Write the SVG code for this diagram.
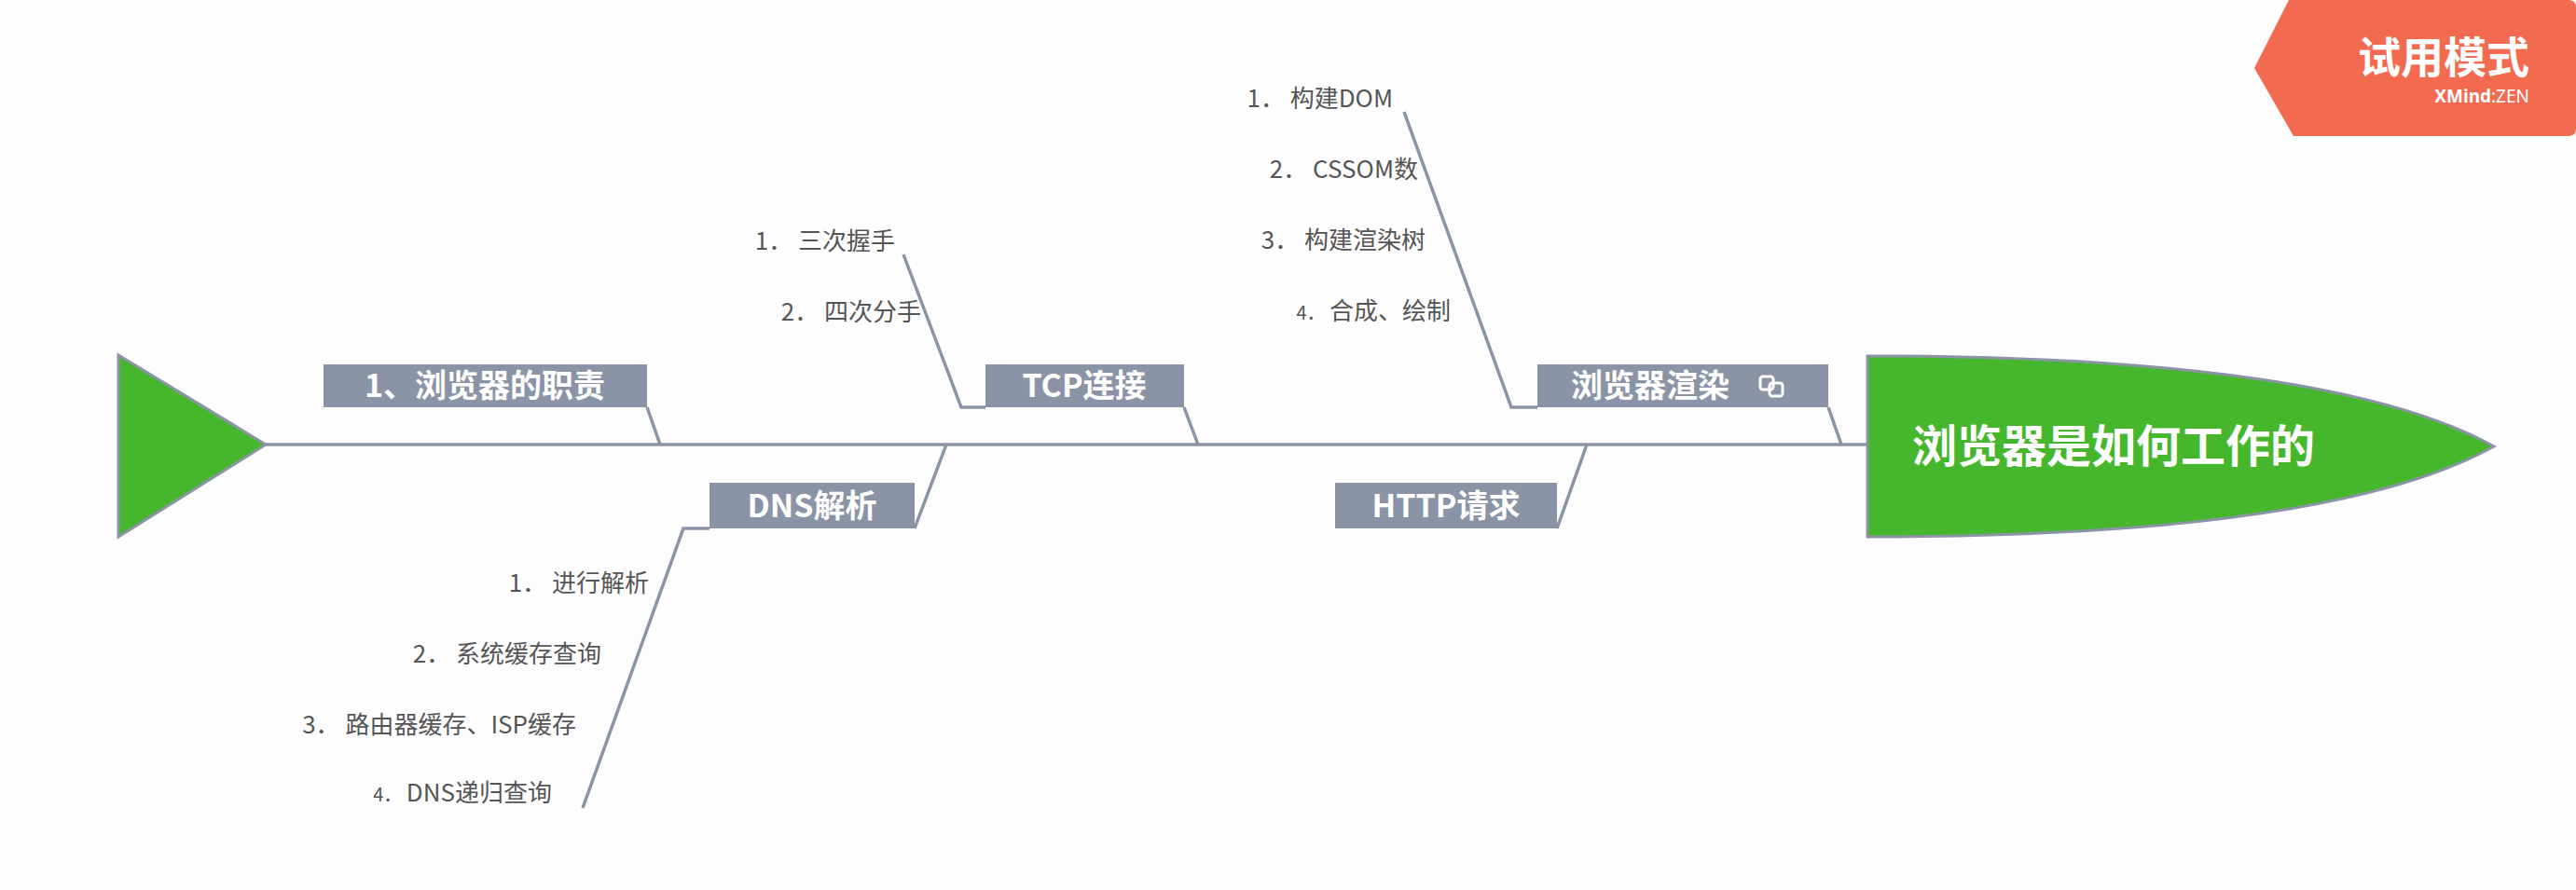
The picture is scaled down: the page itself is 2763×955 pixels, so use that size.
<svg xmlns="http://www.w3.org/2000/svg" width="2763" height="955" viewBox="0 0 2763 955">
<style>
.box{fill:#8A94A6}
.bt{font-family:"Noto Sans CJK SC",sans-serif;font-weight:bold;font-size:34px;fill:#fff;text-anchor:middle}
.it{font-family:"Noto Sans CJK SC",sans-serif;font-size:26px;fill:#555;text-anchor:end}
.ln{stroke:#8A94A6;stroke-width:3.5;fill:none}
</style>
<rect width="2763" height="955" fill="#fdfdfd"/>
<g id="connectors">
<line class="ln" x1="285" y1="477" x2="2003" y2="477" stroke-width="5"/>
<polyline class="ln" points="694,437 708,477"/>
<polyline class="ln" points="1270,437 1285,477"/>
<polyline class="ln" points="1961,437 1975,477"/>
<polyline class="ln" points="1015,477 981,567"/>
<polyline class="ln" points="1702,477 1670,567"/>
<polyline class="ln" points="969,273 1031,437 1057,437"/>
<polyline class="ln" points="1506,120 1621,437 1649,437"/>
<polyline class="ln" points="761,567 733,567 625,867"/>
</g>
<g id="tail"><polygon points="127,381 285,477 127,576" fill="#46B72C" stroke="#8A94A6" stroke-width="3"/></g>
<g id="head">
<path d="M2003,382 Q2500,382 2675,479 Q2500,576 2003,576 Z" fill="#46B72C" stroke="#8A94A6" stroke-width="3"/>
<text x="2051" y="496" font-family="Noto Sans CJK SC,sans-serif" font-weight="bold" font-size="48" fill="#fff">浏览器是如何工作的</text>
</g>
<g id="n1"><rect class="box" x="347" y="391" width="347" height="46"/><text class="bt" x="520" y="426">1、浏览器的职责</text></g>
<g id="n2"><rect class="box" x="1057" y="391" width="213" height="46"/><text class="bt" x="1163" y="426">TCP连接</text></g>
<g id="n3"><rect class="box" x="1649" y="391" width="312" height="46"/><text class="bt" x="1770" y="426">浏览器渲染</text>
<g fill="none" stroke="#fff" stroke-width="3"><rect x="1888" y="404" width="14" height="14" rx="3"/><rect x="1898" y="411" width="14" height="14" rx="3"/></g></g>
<g id="n4"><rect class="box" x="761" y="518" width="220" height="49"/><text class="bt" x="871" y="555">DNS解析</text></g>
<g id="n5"><rect class="box" x="1432" y="518" width="238" height="49"/><text class="bt" x="1551" y="555">HTTP请求</text></g>
<g id="items">
<text class="it" x="960" y="268">1． 三次握手</text>
<text class="it" x="988" y="344">2． 四次分手</text>
<text class="it" x="1494" y="115">1． 构建DOM</text>
<text class="it" x="1521" y="191">2． CSSOM数</text>
<text class="it" x="1529" y="267">3． 构建渲染树</text>
<text class="it" x="1556" y="343"><tspan font-size="20">4． </tspan>合成、绘制</text>
<text class="it" x="696" y="635">1． 进行解析</text>
<text class="it" x="645" y="711">2． 系统缓存查询</text>
<text class="it" x="618" y="787">3． 路由器缓存、ISP缓存</text>
<text class="it" x="592" y="860" font-size="22"><tspan font-size="20">4． </tspan>DNS递归查询</text>
</g>
<g id="watermark">
<path d="M2455,0 L2755,0 Q2763,0 2763,8 L2763,138 Q2763,146 2755,146 L2460,146 L2418,73 Z" fill="#F26B50"/>
<text x="2713" y="78" text-anchor="end" font-family="Noto Sans CJK SC,sans-serif" font-weight="bold" font-size="46" fill="#fff">试用模式</text>
<text x="2713" y="110" text-anchor="end" font-family="Noto Sans,sans-serif" font-size="19" fill="#fff"><tspan font-weight="bold">XMind</tspan>:ZEN</text>
</g>
</svg>
